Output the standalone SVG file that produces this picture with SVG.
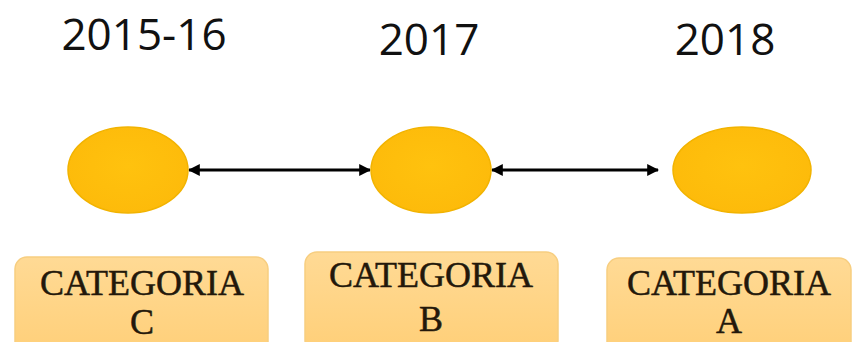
<svg xmlns="http://www.w3.org/2000/svg" width="853" height="342" viewBox="0 0 853 342">
<style>
.year{font-family:"Open Sans","Liberation Sans",sans-serif;font-size:44px;fill:#111;text-anchor:middle}
.cat{font-family:"Liberation Serif","Times New Roman",serif;font-size:36px;fill:#23180b;stroke:#23180b;stroke-width:0.5;text-anchor:middle}
.dot{fill:url(#gEll);stroke:#F2B300;stroke-width:1.5}
.box{fill:url(#gBox);stroke:#F7CE80;stroke-width:1.5}
.conn{stroke:#000;stroke-width:3;fill:none;marker-start:url(#arrS);marker-end:url(#arrE)}
</style>
<defs>
<radialGradient id="gEll" cx="50%" cy="45%" r="60%">
<stop offset="0" stop-color="#FFC20E"/>
<stop offset="1" stop-color="#FDBA0A"/>
</radialGradient>
<linearGradient id="gBox" x1="0" y1="0" x2="0" y2="1">
<stop offset="0" stop-color="#FFDA95"/>
<stop offset="1" stop-color="#FFCF78"/>
</linearGradient>
<marker id="arrE" viewBox="0 0 10 10" refX="9" refY="5" markerWidth="4" markerHeight="4" orient="auto" markerUnits="strokeWidth">
<path d="M0,0 L10,5 L0,10 Z" fill="#000"/>
</marker>
<marker id="arrS" viewBox="0 0 10 10" refX="1" refY="5" markerWidth="4" markerHeight="4" orient="auto" markerUnits="strokeWidth">
<path d="M10,0 L0,5 L10,10 Z" fill="#000"/>
</marker>
</defs>
<rect width="853" height="342" fill="#fff"/>
<g id="connectors">
<line class="conn" x1="189" y1="170" x2="370" y2="170"/>
<line class="conn" x1="492" y1="170" x2="658" y2="170"/>
</g>
<g id="node-2015">
<text class="year" x="144" y="50">2015-16</text>
<ellipse class="dot" cx="128" cy="170" rx="60" ry="43"/>
</g>
<g id="node-2017">
<text class="year" x="429" y="55">2017</text>
<ellipse class="dot" cx="431" cy="170" rx="60" ry="43"/>
</g>
<g id="node-2018">
<text class="year" x="725" y="55">2018</text>
<ellipse class="dot" cx="742" cy="170" rx="69" ry="43"/>
</g>
<g id="cat-c">
<rect class="box" x="15" y="257" width="253" height="100" rx="12"/>
<text class="cat" x="142" y="295">CATEGORIA</text>
<text class="cat" x="142" y="334">C</text>
</g>
<g id="cat-b">
<rect class="box" x="305" y="252" width="253" height="100" rx="12"/>
<text class="cat" x="431" y="287">CATEGORIA</text>
<text class="cat" x="431" y="331">B</text>
</g>
<g id="cat-a">
<rect class="box" x="607" y="258" width="244" height="100" rx="12"/>
<text class="cat" x="729" y="295">CATEGORIA</text>
<text class="cat" x="729" y="333">A</text>
</g>
</svg>
